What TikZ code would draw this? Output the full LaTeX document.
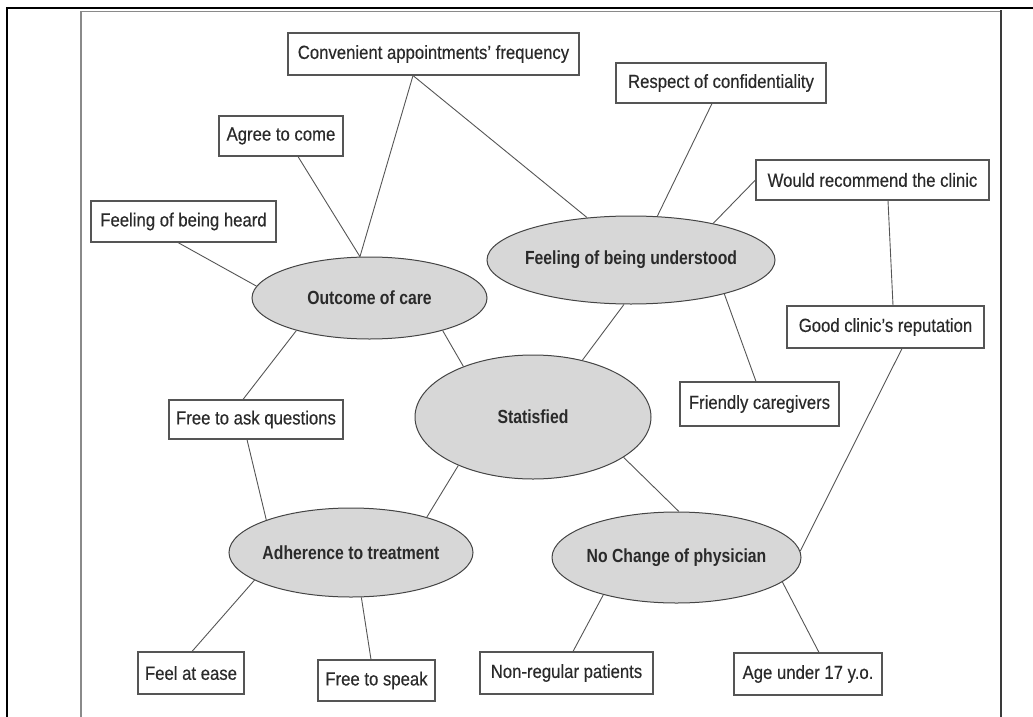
\documentclass[tikz,border=0pt]{standalone}
\usepackage{fontspec}
\setmainfont{Liberation Sans}[FakeStretch=0.88, FakeBold=0.3]
\newfontfamily\boldlab{Liberation Sans}[FakeStretch=0.83]
\usetikzlibrary{shapes.geometric}
\definecolor{txt}{HTML}{2A2A2A}
\definecolor{boxc}{HTML}{555555}
\definecolor{linec}{HTML}{555555}
\definecolor{ellfill}{HTML}{D7D7D7}
\definecolor{ellline}{HTML}{444444}
\definecolor{framegray}{HTML}{8A8A8A}
\definecolor{framedark}{HTML}{3A3A3A}
\begin{document}
\begin{tikzpicture}[x=1pt,y=-1pt,
  box/.style={draw=boxc, line width=1.1pt, fill=white, text=txt,
    font=\fontsize{19}{22}\selectfont, inner sep=0pt},
  oval/.style={ellipse, draw=ellline, line width=1pt, fill=ellfill, text=txt,
    font=\boldlab\bfseries\fontsize{19}{22}\selectfont, inner sep=0pt},
  conn/.style={draw=linec, line width=0.9pt}]
\useasboundingbox (0,0) rectangle (1033,717);
% frame
\draw[line width=2pt, black] (7,717) -- (7,8.3) -- (1033,8.3);
\draw[line width=1.2pt, framegray] (81,717) -- (81,11.3) -- (1001,11.3);
\draw[line width=2pt, framedark] (1001,10.5) -- (1001,717);
% ellipses
\node[oval, minimum width=235pt, minimum height=82pt] (outcome) at (369.5,298) {\makebox[0pt]{Outcome of care}};
\node[oval, minimum width=288pt, minimum height=88pt] (under) at (631,260) {\makebox[0pt]{Feeling of being understood}};
\node[oval, minimum width=236pt, minimum height=124pt] (sat) at (533,417) {\makebox[0pt]{Statisfied}};
\node[oval, minimum width=244pt, minimum height=89pt] (adh) at (351,552.5) {\makebox[0pt]{Adherence to treatment}};
\node[oval, minimum width=249pt, minimum height=91pt] (noch) at (676.5,557.5) {\makebox[0pt]{No Change of physician}};
% boxes
\node[box, minimum width=291pt, minimum height=42pt] (conv) at (433.5,54) {Convenient appointments’ frequency};
\node[box, minimum width=124pt, minimum height=40pt] (agree) at (281,136) {Agree to come};
\node[box, minimum width=185pt, minimum height=41pt] (heard) at (183.5,221.5) {Feeling of being heard};
\node[box, minimum width=210pt, minimum height=40pt] (resp) at (721,83) {Respect of confidentiality};
\node[box, minimum width=233pt, minimum height=40pt] (recom) at (872.5,180) {Would recommend the clinic};
\node[box, minimum width=197pt, minimum height=42pt] (good) at (885.5,327) {Good clinic’s reputation};
\node[box, minimum width=159pt, minimum height=44pt] (friend) at (759.5,404) {Friendly caregivers};
\node[box, minimum width=174pt, minimum height=39pt] (askq) at (256,419.5) {Free to ask questions};
\node[box, minimum width=106pt, minimum height=42pt] (ease) at (191,673) {Feel at ease};
\node[box, minimum width=117pt, minimum height=41pt] (speak) at (376.5,680.5) {Free to speak};
\node[box, minimum width=173pt, minimum height=42pt] (nonreg) at (566.5,673) {Non-regular patients};
\node[box, minimum width=148pt, minimum height=42pt] (age) at (808,674) {Age under 17 y.o.};
% connectors
\draw[conn] ([xshift=-20.5pt]conv.south) -- (outcome.103);
\draw[conn] ([xshift=-20.5pt]conv.south) -- (under.136);
\draw[conn] ([xshift=17pt]agree.south) -- (outcome.103);
\draw[conn] ([xshift=-5.5pt]heard.south) -- (outcome.174.5);
\draw[conn] (outcome.-156.7) -- ([xshift=-13pt]askq.north);
\draw[conn] (outcome.-24) -- (sat.144.5);
\draw[conn] ([xshift=-9pt]askq.south) -- (adh.159.3);
\draw[conn] ([xshift=-9pt]resp.south) -- (under.59.8);
\draw[conn] (recom.west) -- (under.24.3);
\draw[conn] ([xshift=15.5pt]recom.south) -- ([xshift=7.5pt]good.north);
\draw[conn] (under.-99) -- (sat.49.7);
\draw[conn] (under.-20.8) -- ([xshift=-3.5pt]friend.north);
\draw[conn] ([xshift=16.5pt]good.south) -- (noch.3.5);
\draw[conn] (sat.-147.4) -- (adh.25);
\draw[conn] (sat.-24.8) -- (noch.87);
\draw[conn] (adh.-164) -- ([xshift=1pt]ease.north);
\draw[conn] (adh.-77.3) -- ([xshift=-5.5pt]speak.north);
\draw[conn] (noch.-153.6) -- ([xshift=6.5pt]nonreg.north);
\draw[conn] (noch.-13.5) -- ([xshift=11pt]age.north);
\end{tikzpicture}
\end{document}
